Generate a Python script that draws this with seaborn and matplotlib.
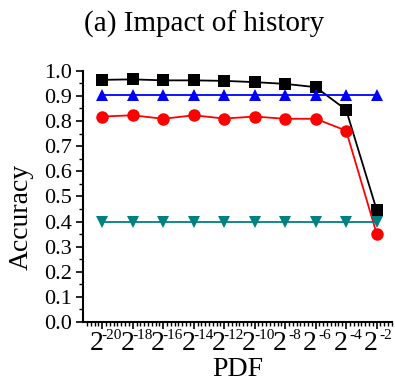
import matplotlib
matplotlib.use("Agg")
import matplotlib.pyplot as plt
import matplotlib.transforms as mtransforms
import seaborn as sns
import pandas as pd
from matplotlib.ticker import MultipleLocator, AutoMinorLocator

exponents = [-20, -18, -16, -14, -12, -10, -8, -6, -4, -2]
base_labels = ["2"] * len(exponents)
exp_labels = [str(e) for e in exponents]
black_vals = [0.964, 0.966, 0.962, 0.962, 0.960, 0.955, 0.948, 0.935, 0.845, 0.447]
red_vals = [0.818, 0.823, 0.809, 0.823, 0.810, 0.818, 0.809, 0.809, 0.762, 0.352]
blue_vals = [0.905] * 10
teal_vals = [0.40] * 10

sns.set_style("ticks", {"axes.edgecolor": "black", "text.color": "black",
                        "axes.labelcolor": "black", "xtick.color": "black",
                        "ytick.color": "black"})
plt.rcParams['font.family'] = ['Liberation Serif', 'DejaVu Serif']
plt.rcParams['mathtext.fontset'] = 'stix'

fig = plt.figure(figsize=(3.95, 3.87), dpi=100)
ax = fig.add_axes([0.211, 0.168, 0.781, 0.649])

x = list(range(len(exponents)))
series = [
    (black_vals, "black", "s", 8),
    (blue_vals, "blue", "^", 9),
    (red_vals, "red", "o", 9),
    (teal_vals, "#008080", "v", 9),
]
for vals, col, mk, ms in series:
    df = pd.DataFrame({"x": x, "y": vals})
    sns.lineplot(data=df, x="x", y="y", ax=ax, color=col, marker=mk,
                 markersize=ms, markeredgewidth=0, linewidth=1.3)

ax.set_xlim(-0.62, 9.5)
ax.set_ylim(0.0, 1.0)
ax.set_xticks(x)
ax.set_xticklabels(base_labels, fontsize=20)
ax.yaxis.set_major_locator(MultipleLocator(0.1))
ax.yaxis.set_minor_locator(MultipleLocator(0.05))
ax.xaxis.set_minor_locator(AutoMinorLocator(8))
ax.set_yticklabels([f"{v:.1f}" for v in ax.get_yticks()], fontsize=16)
ax.tick_params(axis='both', which='major', direction='out', length=5, width=1.2, pad=3, colors='black')
ax.tick_params(axis='both', which='minor', direction='out', length=3, width=1, colors='black')
ax.tick_params(axis='x', which='major', pad=1.5)
for lab in ax.get_xticklabels():
    lab.set_transform(lab.get_transform() + mtransforms.ScaledTranslation(-5.5 / 100, 0, fig.dpi_scale_trans))

# superscript exponents as a secondary axis
sec = ax.secondary_xaxis('bottom')
sec.set_xticks(x)
sec.set_xticklabels(exp_labels, fontsize=11)
sec.tick_params(axis='x', which='both', length=0, pad=5, colors='black')
sec.spines['bottom'].set_visible(False)
sec.xaxis.set_minor_locator(plt.NullLocator())
for lab in sec.get_xticklabels():
    lab.set_transform(lab.get_transform() + mtransforms.ScaledTranslation(9.5 / 100, 0, fig.dpi_scale_trans))

for s in ["top", "right"]:
    ax.spines[s].set_visible(False)
for s in ["left", "bottom"]:
    ax.spines[s].set_linewidth(1.5)
    ax.spines[s].set_color("black")
ax.set_xlabel("PDF", fontsize=20, labelpad=1, color="black")
ax.set_ylabel("Accuracy", fontsize=20, color="black")
ax.yaxis.set_label_coords(-0.162, 0.418)
fig.text(0.517, 0.937, "(a) Impact of history", ha="center", va="center", fontsize=21, color="black")

fig.savefig("out.png", dpi=100)
